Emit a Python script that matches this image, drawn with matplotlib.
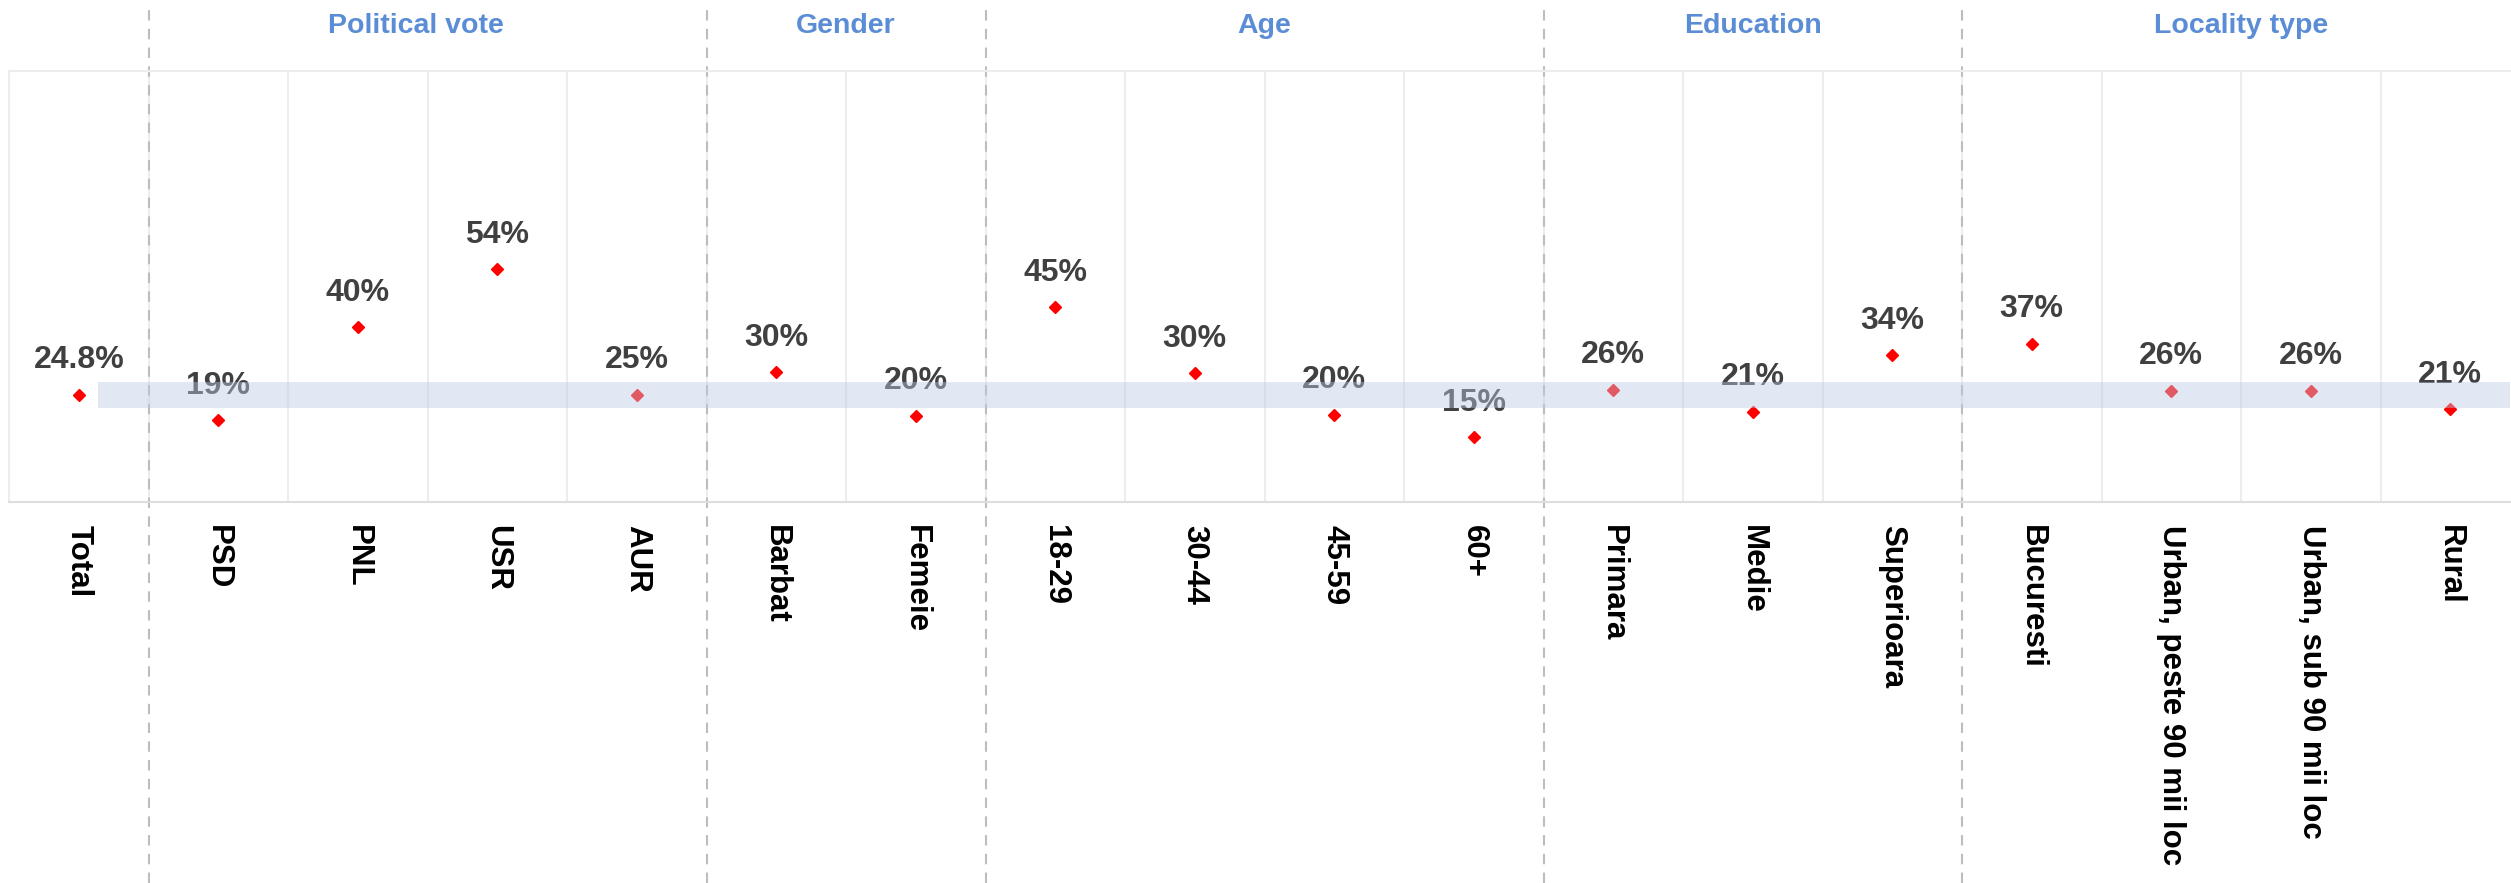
import numpy as np
import matplotlib
matplotlib.use('Agg')
import matplotlib.pyplot as plt
from matplotlib.transforms import blended_transform_factory

plt.rcParams['font.family'] = ['Liberation Sans', 'DejaVu Sans']

categories = ['Total', 'PSD', 'PNL', 'USR', 'AUR', 'Barbat', 'Femeie',
              '18-29', '30-44', '45-59', '60+', 'Primara', 'Medie', 'Superioara',
              'Bucuresti', 'Urban, peste 90 mii loc', 'Urban, sub 90 mii loc', 'Rural']
values = [24.8, 18.9, 40.5, 53.9, 24.8, 30.1, 19.9,
          45.2, 29.8, 20.2, 14.9, 26.0, 20.9, 34.0,
          36.7, 25.7, 25.7, 21.4]
labels = ['24.8%', '19%', '40%', '54%', '25%', '30%', '20%',
          '45%', '30%', '20%', '15%', '26%', '21%', '34%',
          '37%', '26%', '26%', '21%']

groups = ['Political vote', 'Gender', 'Age', 'Education', 'Locality type']
group_start = [1, 5, 7, 11, 14]
group_end = [4, 6, 10, 13, 17]

total = 24.8
margin = 3.0

W, H = 2511, 883
fig = plt.figure(figsize=(W / 100, H / 100), dpi=100)
col_w = 139.5
left_px, top_px, bottom_px = 9, 71, 501.5
ax = fig.add_axes([left_px / W, 1 - bottom_px / H, (W - left_px) / W, (bottom_px - top_px) / H])

x = np.arange(len(categories))
ax.set_xlim(-0.5, -0.5 + (W - left_px) / col_w)
ax.set_ylim(0, 100)

# points + value labels
ax.plot(x, values, 'D', color='#ff0000', markersize=6, zorder=3)
for xi, v, lab in zip(x, values, labels):
    ax.annotate(lab, (xi, v), xytext=(0, 19), textcoords='offset points',
                ha='center', va='baseline', fontsize=23, fontweight='bold',
                color='#404040', zorder=4)

# band around total
ax.fill_between([0.14, 17.43], total - margin, total + margin,
                color='#BBCBE4', alpha=0.44, lw=0, zorder=5)

# column grid
ax.set_xticks(x)
ax.set_xticks(x[:-1] + 0.5, minor=True)
ax.grid(which='minor', axis='x', color='#ededed', lw=1.5)
ax.tick_params(which='both', length=0)
ax.tick_params(axis='x', pad=17)
ax.set_xticklabels(categories, rotation=270, fontsize=22.5, fontweight='bold', color='black')
ax.set_yticks([])
for s in ['top', 'left']:
    ax.spines[s].set_color('#ededed')
    ax.spines[s].set_linewidth(1.5)
ax.spines['bottom'].set_color('#dedede')
ax.spines['bottom'].set_linewidth(1.5)
ax.spines['right'].set_visible(False)

# group separators and headers
trans = blended_transform_factory(ax.transData, fig.transFigure)
head_shift = [-0.08, 0, 0, 0, 0]
for gs, ge, name, sh in zip(group_start, group_end, groups, head_shift):
    ax.plot([gs - 0.5, gs - 0.5], [0, 1 - 5 / H], transform=trans, clip_on=False,
            color='#bdbdbd', lw=1.5, ls=(0, (5, 4)), zorder=2)
    ax.text((gs + ge) / 2 + sh, 1 - 33 / H, name, transform=trans, ha='center',
            va='baseline', fontsize=20.5, fontweight='bold', color='#5A8DD6')

fig.savefig('out.png', dpi=100)
